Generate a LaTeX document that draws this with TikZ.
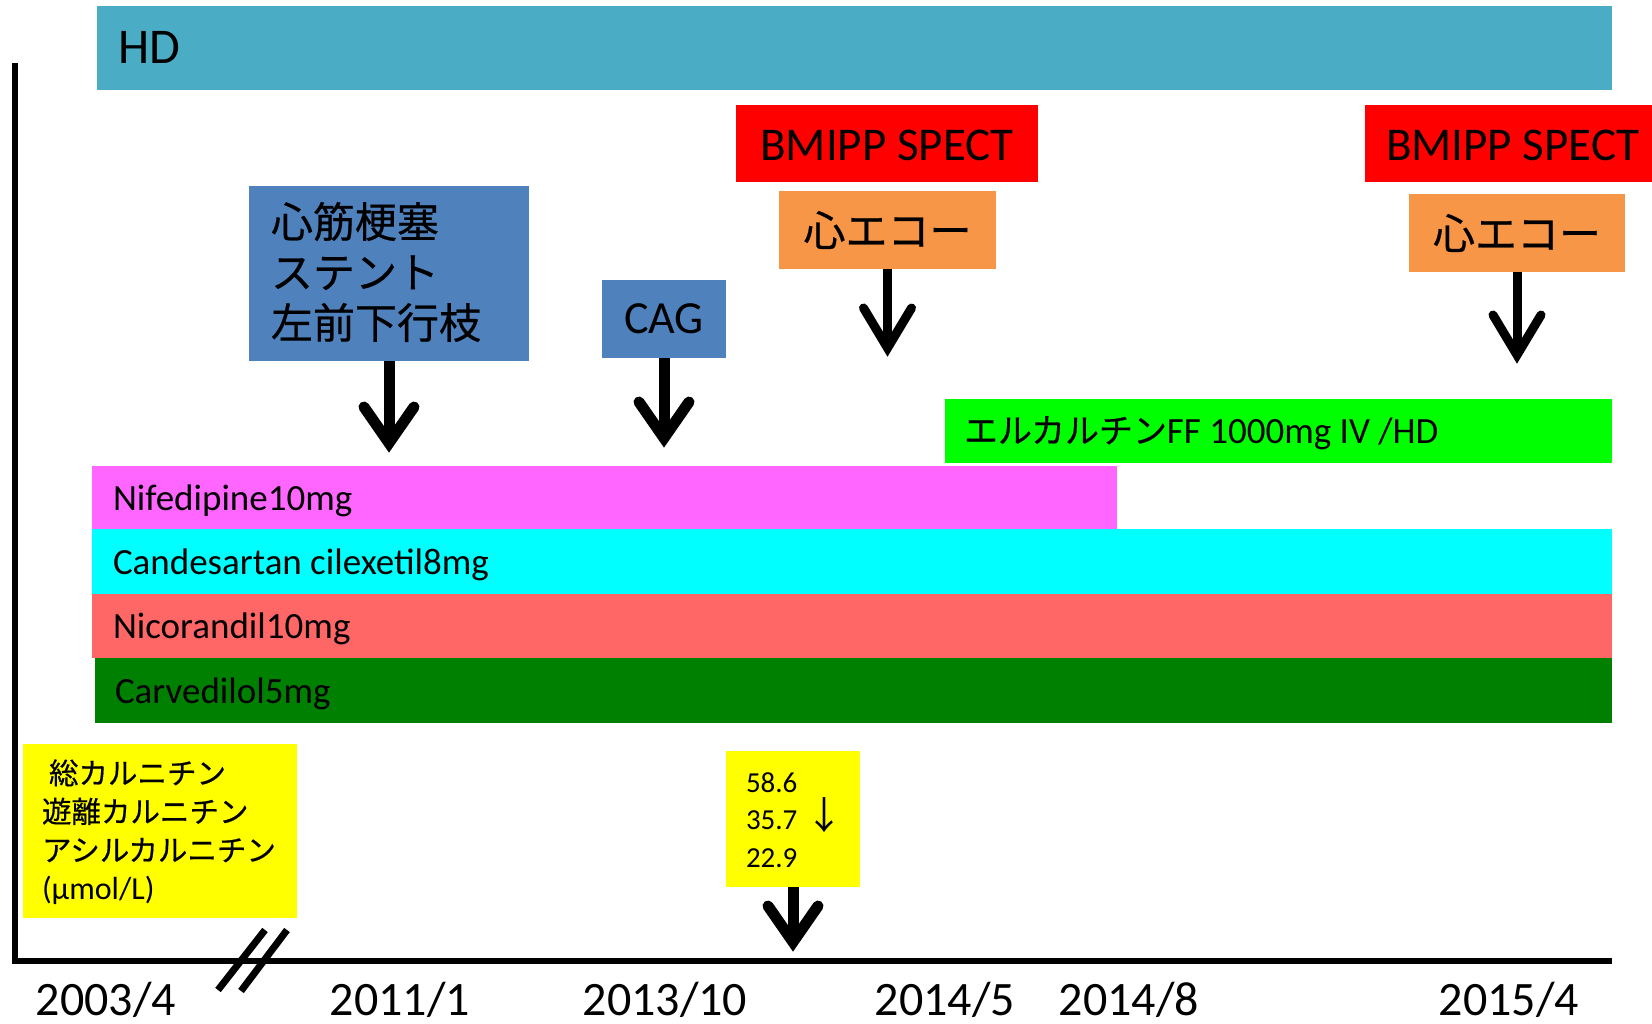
\documentclass[tikz,border=0pt]{standalone}
\usepackage{fontspec}
\setmainfont{Carlito}
\newfontfamily\jpf{Noto Sans CJK JP}[FakeBold=0.5]
\newfontfamily\jpa{Noto Sans CJK JP}
\usetikzlibrary{calc}
\definecolor{hdblue}{HTML}{4BACC6}
\definecolor{boxblue}{HTML}{4F81BD}
\definecolor{echoorange}{HTML}{F79646}
\definecolor{bmred}{HTML}{FF0000}
\definecolor{elgreen}{HTML}{00FF00}
\definecolor{nifpink}{HTML}{FF66FF}
\definecolor{candcyan}{HTML}{00FFFF}
\definecolor{nicored}{HTML}{FF6666}
\definecolor{carvgreen}{HTML}{008000}
\definecolor{labyellow}{HTML}{FFFF00}
\begin{document}
\begin{tikzpicture}[x=1pt,y=-1pt,
  rect/.style={anchor=north west, inner sep=0pt, outer sep=0pt, draw=none},
  lbl/.style={inner sep=0pt, outer sep=0pt, text=black},
  drug/.style={lbl, anchor=base west, font=\fontsize{37}{44}\selectfont},
  datel/.style={lbl, anchor=base, font=\fontsize{48}{56}\selectfont},
  axisline/.style={line width=6pt, black},
  shaftbig/.style={line width=11pt, black},
  shaftsmall/.style={line width=9pt, black},
  chevbig/.pic={\draw[line width=11pt, line cap=round, line join=miter] (-25,-36) -- (0,0) -- (25,-36);},
  chevsmall/.pic={\draw[line width=9pt, line cap=round, line join=miter] (-24,-40) -- (0,0) -- (24,-40);}
]
\useasboundingbox[fill=white] (0,0) rectangle (1652,1024);

% axes
\coordinate (ytop) at (15,63);
\coordinate (orig) at (15,961);
\coordinate (xend) at (1612,961);
\draw[axisline] (ytop) -- (orig);
\draw[axisline] (12,961) -- (xend);
\draw[line width=7pt] (218,990) -- (265,930);
\draw[line width=7pt] (241,991) -- (287,930);

% HD bar
\node[rect, fill=hdblue, minimum width=1515, minimum height=84] (hd) at (97,6) {};
\node[lbl, anchor=base west, font=\fontsize{50}{60}\selectfont] (hdT) at (118,64) {HD};

% blue event boxes
\node[rect, fill=boxblue, minimum width=280, minimum height=175] (mi) at (249,186) {};
\node[lbl, anchor=west, align=left, font=\jpf\fontsize{42}{50.5}\selectfont] (miT) at (271,272) {心筋梗塞\\ステント\\左前下行枝};
\node[rect, fill=boxblue, minimum width=124, minimum height=78] (cag) at (602,280) {};
\node[lbl, font=\fontsize{46}{55}\selectfont] (cagT) at (cag.center) {CAG};

% BMIPP + echo
\node[rect, fill=bmred, minimum width=302, minimum height=77] (bm1) at (736,105) {};
\node[lbl, font=\fontsize{47}{56}\selectfont] (bm1T) at (887,145) {BMIPP SPECT};
\node[rect, fill=echoorange, minimum width=217, minimum height=78] (ec1) at (779,191) {};
\node[lbl, font=\jpf\fontsize{42}{50}\selectfont] (ec1T) at (ec1.center) {心エコー};
\node[rect, fill=bmred, minimum width=287, minimum height=77] (bm2) at (1365,105) {};
\node[lbl, anchor=west, font=\fontsize{47}{56}\selectfont] (bm2T) at (1386,145) {BMIPP SPECT};
\node[rect, fill=echoorange, minimum width=216, minimum height=78] (ec2) at (1409,194) {};
\node[lbl, font=\jpf\fontsize{42}{50}\selectfont] (ec2T) at (ec2.center) {心エコー};

% drug bars
\node[rect, fill=elgreen, minimum width=667, minimum height=64] (lc) at (945,399) {};
\node[lbl, anchor=base west, font=\fontsize{37}{40}\selectfont] (lcT) at (964,443) {{\jpf\fontsize{34}{40}\selectfont エルカルチン}FF 1000mg IV /HD};
\node[rect, fill=nifpink, minimum width=1025, minimum height=63] (nif) at (92,466) {};
\node[drug] (nifT) at (113,510) {Nifedipine10mg};
\node[rect, fill=candcyan, minimum width=1520, minimum height=65] (cand) at (92,529) {};
\node[drug] (candT) at (113,574) {Candesartan cilexetil8mg};
\node[rect, fill=nicored, minimum width=1520, minimum height=64] (nico) at (92,594) {};
\node[drug] (nicoT) at (113,638) {Nicorandil10mg};
\node[rect, fill=carvgreen, minimum width=1517, minimum height=65] (carv) at (95,658) {};
\node[drug] (carvT) at (115,703) {Carvedilol5mg};

% yellow boxes
\node[rect, fill=labyellow, minimum width=274, minimum height=174] (y1) at (23,744) {};
\node[lbl, anchor=west, align=left, font=\fontsize{29.5}{38.5}\selectfont] (y1T) at (42,832) {\hspace*{7pt}{\jpf 総カルニチン}\\{\jpf 遊離カルニチン}\\{\jpf アシルカルニチン}\\{\fontsize{32}{38.5}\selectfont (μmol/L)}};
\node[rect, fill=labyellow, minimum width=134, minimum height=136] (y2) at (726,751) {};
\node[lbl, anchor=west, align=left, font=\fontsize{29}{37.5}\selectfont] (y2T) at (746,820) {58.6\\35.7\hspace{8pt}{\jpa\fontsize{38}{37.5}\selectfont ↓}\\22.9};

% arrows
\coordinate (t1) at ($(mi.south)+(0,82)$);
\draw[shaftbig] (mi.south) -- (t1);
\pic at (t1) {chevbig};
\coordinate (t2) at ($(cag.south)+(0,80)$);
\draw[shaftbig] (cag.south) -- (t2);
\pic at (t2) {chevbig};
\coordinate (t3) at ($(ec1.south)+(0,79)$);
\draw[shaftsmall] (ec1.south) -- (t3);
\pic at (t3) {chevsmall};
\coordinate (t4) at ($(ec2.south)+(0,83)$);
\draw[shaftsmall] (ec2.south) -- (t4);
\pic at (t4) {chevsmall};
\coordinate (t5) at ($(y2.south)+(0,55)$);
\draw[shaftbig] (y2.south) -- (t5);
\pic at (t5) {chevbig};

% dates
\node[datel] (d1) at (106,1015) {2003/4};
\node[datel] (d2) at (400,1015) {2011/1};
\node[datel] (d3) at (665,1015) {2013/10};
\node[datel] (d4) at (945,1015) {2014/5};
\node[datel] (d5) at (1129,1015) {2014/8};
\node[datel] (d6) at (1509,1015) {2015/4};
\end{tikzpicture}
\end{document}
